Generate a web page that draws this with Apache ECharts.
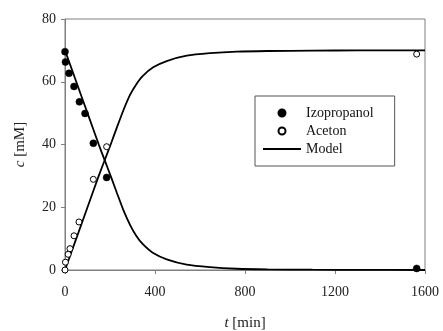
<!DOCTYPE html>
<html>
<head>
<meta charset="utf-8">
<script src="https://cdn.jsdelivr.net/npm/echarts@6/dist/echarts.min.js"></script>
<style>html,body{margin:0;padding:0;background:#fff}#c{width:443px;height:331px}</style>
</head>
<body>
<div id="c"></div>
<script>
// Measured points
var isoT = [0, 2, 18, 40, 64, 89, 126, 185, 1563];
var isoC = [69.6, 66.3, 62.7, 58.5, 53.6, 49.9, 40.4, 29.5, 0.5];
var acetonT = [0, 2, 14, 22, 40, 62, 126, 185, 1563];
var acetonC = [0, 2.5, 5.0, 6.8, 10.9, 15.3, 28.9, 39.3, 68.8];
// Model curves
var modelT = [0, 50, 100, 150, 178, 207, 230, 260, 289, 315, 345, 392, 452, 541, 644, 763, 900, 1100, 1300, 1600];
var modelAceton = [0, 10, 20, 30, 35.3, 40.8, 45.3, 51.0, 55.8, 59.0, 61.8, 64.6, 66.6, 68.3, 69.1, 69.6, 69.8, 69.9, 70, 70];
var modelIso = [70, 60, 50, 40.0, 34.7, 29.2, 24.7, 19.0, 14.4, 11.1, 8.3, 5.4, 3.4, 1.7, 0.9, 0.4, 0.2, 0.1, 0.05, 0];
var xTicks = [0, 400, 800, 1200, 1600];
var yTicks = [0, 20, 40, 60, 80];

function pairs(a, b) { return a.map(function (v, i) { return [v, b[i]]; }); }

var font = 'Liberation Serif';
var chart = echarts.init(document.getElementById('c'));
chart.setOption({
  animation: false,
  backgroundColor: '#fff',
  grid: { left: 65, right: 18, top: 19, bottom: 61, show: true, borderColor: '#7f7f7f', borderWidth: 1,
          containLabel: false, outerBoundsMode: 'none' },
  legend: {
    orient: 'vertical', left: 255, top: 96,
    padding: [9, 21, 9, 7], itemGap: 2,
    itemWidth: 38, itemHeight: 7,
    borderColor: '#555', borderWidth: 1,
    textStyle: { fontFamily: font, fontSize: 14, color: '#111', lineHeight: 16 },
    data: [
      { name: 'Izopropanol', icon: 'circle' },
      { name: 'Aceton', icon: 'circle' },
      { name: 'Model', itemStyle: { color: 'rgba(0,0,0,0)', borderWidth: 0, opacity: 0 } }
    ]
  },
  xAxis: {
    type: 'value', min: xTicks[0], max: xTicks[xTicks.length - 1], interval: 400,
    name: '{i|t} [min]', nameLocation: 'middle', nameGap: 46,
    nameTextStyle: { fontFamily: font, fontSize: 15, color: '#222', rich: { i: { fontStyle: 'italic', fontFamily: font, fontSize: 15, color: '#222' } } },
    axisLine: { lineStyle: { color: '#7f7f7f', width: 1 } },
    axisTick: { inside: false, length: 4, lineStyle: { color: '#7f7f7f' } },
    axisLabel: { fontFamily: font, fontSize: 14, color: '#222', margin: 15, formatter: function (v) { return String(v); } },
    splitLine: { show: false }
  },
  yAxis: {
    type: 'value', min: yTicks[0], max: yTicks[yTicks.length - 1], interval: 20,
    name: '{i|c} [mM]', nameLocation: 'middle', nameGap: 37, nameRotate: 90,
    nameTextStyle: { fontFamily: font, fontSize: 15, color: '#222', rich: { i: { fontStyle: 'italic', fontFamily: font, fontSize: 15, color: '#222' } } },
    axisLine: { show: true, lineStyle: { color: '#7f7f7f', width: 1 } },
    axisTick: { show: true, inside: false, length: 4, lineStyle: { color: '#7f7f7f' } },
    axisLabel: { fontFamily: font, fontSize: 14, color: '#222', margin: 9, formatter: function (v) { return String(v); } },
    splitLine: { show: false }
  },
  series: [
    { name: 'Model', type: 'line', data: pairs(modelT, modelIso), smooth: 0.25, showSymbol: false, symbol: 'none',
      lineStyle: { color: '#000', width: 1.8 }, itemStyle: { color: '#000' }, z: 2 },
    { name: 'Model', type: 'line', data: pairs(modelT, modelAceton), smooth: 0.25, showSymbol: false, symbol: 'none',
      lineStyle: { color: '#000', width: 1.8 }, itemStyle: { color: '#000' }, z: 2 },
    { name: 'Izopropanol', type: 'scatter', data: pairs(isoT, isoC), symbol: 'circle', symbolSize: 7,
      itemStyle: { color: '#000', borderColor: '#000', borderWidth: 0.5, opacity: 1 }, z: 3 },
    { name: 'Aceton', type: 'scatter', data: pairs(acetonT, acetonC), symbol: 'circle', symbolSize: 6,
      itemStyle: { color: '#fff', borderColor: '#000', borderWidth: 1, opacity: 1 }, z: 3 }
  ]
});
</script>
</body>
</html>
